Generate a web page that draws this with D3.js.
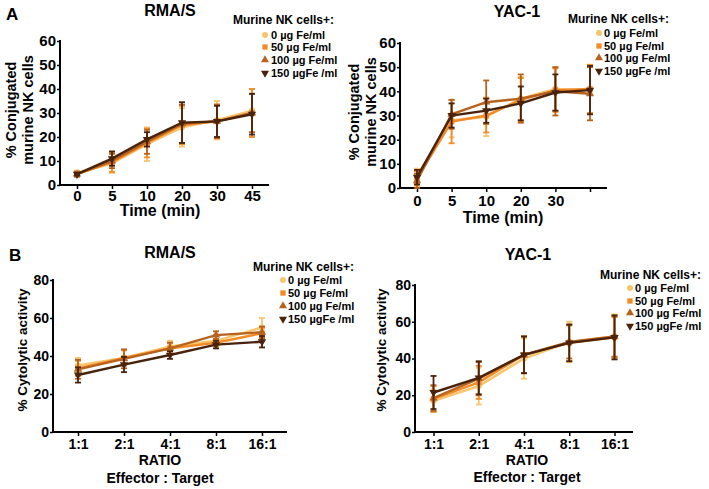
<!DOCTYPE html>
<html><head><meta charset="utf-8">
<script src="https://cdn.jsdelivr.net/npm/d3@7"></script>
<style>
body{margin:0;background:#fff;}
text{font-family:"Liberation Sans",Arial,sans-serif;font-weight:bold;fill:#000;}
</style></head>
<body><svg id="c" width="709" height="489"></svg>
<script>
// ---- data ----
const seriesNames = ["0 \u00b5g Fe/ml","50 \u00b5g Fe/ml","100 \u00b5g Fe/ml","150 \u00b5gFe /ml"];
const timeCats = ["0","5","10","20","30","45"];
const timeCatsYac = ["0","5","10","20","30",""];
const ratioCats = ["1:1","2:1","4:1","8:1","16:1"];
const conjTicks = [0,10,20,30,40,50,60];
const cytoTicks = [0,20,40,60,80];

// A: RMA/S conjugation (%)
const rmasConjMean = [
  [5, 9, 17, 24, 27, 31],
  [4.5, 9.5, 17.5, 25, 26.5, 30],
  [4.5, 10, 18, 25.5, 26.5, 30],
  [4.5, 11, 19, 26, 26.5, 29.5]
];
const rmasConjErr = [
  [1, 4, 7, 8, 8, 9],
  [1, 4, 6, 8, 7, 10],
  [1, 3, 5, 8, 7, 8],
  [0.5, 3, 3, 8.5, 6.5, 8.5]
];
// A: YAC-1 conjugation (%)
const yacConjMean = [
  [5, 28, 29.5, 37, 41, 40.5],
  [4, 27.5, 30, 36.5, 40.5, 41],
  [3, 30.5, 35.5, 37, 40, 39],
  [4.5, 30, 32, 35, 39.5, 40.5]
];
const yacConjErr = [
  [3, 7, 8, 9, 9, 9.5],
  [3, 9, 7, 9, 9, 10],
  [3, 6, 9, 10, 10, 11],
  [3, 5, 5, 7, 7.5, 10]
];
// B: RMA/S cytolytic activity (%)
const rmasCytoMean = [
  [35, 39, 45, 48, 55],
  [33.5, 39, 44, 47, 52],
  [33, 38.5, 44, 51, 52.5],
  [30, 35.5, 40.5, 46, 47.5]
];
const rmasCytoErr = [
  [4, 4, 3, 3, 5],
  [4, 4, 3, 2, 3],
  [5, 5, 3, 2, 3],
  [4, 4, 2, 2, 3]
];
// B: YAC-1 cytolytic activity (%)
const yacCytoMean = [
  [17, 25, 40, 49, 52],
  [18, 27, 42, 48.5, 51.5],
  [18.5, 29, 42, 49, 52],
  [21.5, 29.5, 42, 48.5, 51.5]
];
const yacCytoErr = [
  [6, 10, 11, 11, 12],
  [7, 9, 10, 10, 11],
  [7, 9, 10, 9, 11],
  [9, 9, 10, 10, 12]
];

// ---- styles ----
const colors = ["#F8C46E","#F28A25","#B8621E","#4A230C"];
const symbols = [d3.symbolCircle, d3.symbolSquare, d3.symbolTriangle, d3.symbolTriangle];
const symRot = [0,0,0,180];

const svg = d3.select("#c");

const panels = [
  {cats:timeCats, mean:rmasConjMean, err:rmasConjErr, yMax:60, yTicks:conjTicks,
   ax0:60, ax1:269, p0:78, p1:253, y0:185, y1:41, xpad:1,
   title:"RMA/S", tx:170, ty:16, ylab:["% Conjugated","murine NK cells"], ylx:[11,28], yly:110, ylfs:14.5,
   xlab:["Time (min)"], xlx:160, xly:[216], xlfs:16, tickfs:15,
   leg:{x:233, y:24, mx:265, tx:271, rows:[39,51,64,77]}},
  {cats:timeCatsYac, mean:yacConjMean, err:yacConjErr, yMax:60, yTicks:conjTicks,
   ax0:400, ax1:607, p0:420, p1:593, y0:188, y1:43, xpad:3,
   title:"YAC-1", tx:517, ty:17, ylab:["% Conjugated","murine NK cells"], ylx:[354,371], yly:112, ylfs:14.5,
   xlab:["Time (min)"], xlx:503, xly:[223], xlfs:16, tickfs:15,
   leg:{x:568, y:23, mx:599, tx:604, rows:[37,50,62,75]}},
  {cats:ratioCats, mean:rmasCytoMean, err:rmasCytoErr, yMax:80, yTicks:cytoTicks,
   ax0:53, ax1:287, p0:78, p1:262, y0:432, y1:280, xpad:3,
   title:"RMA/S", tx:170, ty:258, ylab:["% Cytolytic activity"], ylx:[22], yly:350, ylfs:13.5,
   xlab:["RATIO","Effector : Target"], xlx:160, xly:[465,483], xlfs:14, tickfs:14,
   leg:{x:253, y:271, mx:283, tx:288, rows:[284,297,310,323]}},
  {cats:ratioCats, mean:yacCytoMean, err:yacCytoErr, yMax:80, yTicks:cytoTicks,
   ax0:415, ax1:633, p0:432, p1:613, y0:432, y1:285, xpad:3,
   title:"YAC-1", tx:528, ty:260, ylab:["% Cytolytic activity"], ylx:[381], yly:350, ylfs:13.5,
   xlab:["RATIO","Effector : Target"], xlx:527, xly:[465,482], xlfs:14, tickfs:14,
   leg:{x:600, y:279, mx:630, tx:635, rows:[292,305,317,330]}}
];

panels.forEach(P => {
  const n = P.cats.length;
  const idx = d3.range(n);
  const step = (P.p1 - P.p0)/(n-1);
  const pad = ((P.ax1 - P.ax0)/step - (n-1))/2;
  const x = d3.scalePoint().domain(idx).range([P.ax0, P.ax1]).padding(pad);
  const y = d3.scaleLinear().domain([0, P.yMax]).range([P.y0, P.y1]);
  const g = svg.append("g");

  // axes
  const xa = g.append("g").attr("transform",`translate(0,${P.y0})`)
    .call(d3.axisBottom(x).tickSize(4).tickSizeOuter(0).tickPadding(P.xpad).tickFormat(i => P.cats[i]));
  const ya = g.append("g").attr("transform",`translate(${P.ax0},0)`)
    .call(d3.axisLeft(y).tickValues(P.yTicks).tickSize(3).tickSizeOuter(0).tickPadding(1));
  [xa, ya].forEach(a => {
    a.select(".domain").attr("stroke","#000").attr("stroke-width",2);
    a.selectAll(".tick line").attr("stroke","#000").attr("stroke-width",1.5);
    a.selectAll("text").style("font-size",P.tickfs+"px").style("font-family","'Liberation Sans',Arial,sans-serif").style("font-weight","bold").attr("fill","#000");
  });
  ya.select(".domain").attr("d",`M0,${P.y1-1}V${P.y0+1}`);
  xa.select(".domain").attr("d",`M${P.ax0-1},0H${P.ax1}`);

  // series
  P.mean.forEach((vals, s) => {
    const sg = g.append("g");
    const line = d3.line().x((d,i)=>x(i)).y(d=>y(d));
    sg.append("path").datum(vals).attr("d", line)
      .attr("fill","none").attr("stroke",colors[s]).attr("stroke-width",2.4);
    vals.forEach((v,i) => {
      const e = P.err[s][i], cx = x(i);
      sg.append("line").attr("x1",cx).attr("x2",cx).attr("y1",y(v-e)).attr("y2",y(v+e))
        .attr("stroke",colors[s]).attr("stroke-width",1.8);
      [v-e, v+e].forEach(w => sg.append("line").attr("x1",cx-3).attr("x2",cx+3).attr("y1",y(w)).attr("y2",y(w))
        .attr("stroke",colors[s]).attr("stroke-width",1.8));
      sg.append("path").attr("d", d3.symbol().type(symbols[s]).size(30)())
        .attr("transform",`translate(${cx},${y(v)}) rotate(${symRot[s]})`).attr("fill",colors[s]);
    });
  });

  // title
  g.append("text").attr("x",P.tx).attr("y",P.ty).attr("text-anchor","middle").style("font-size","16px").text(P.title);
  // y label
  P.ylab.forEach((t,k) => g.append("text")
    .attr("transform",`translate(${P.ylx[k]},${P.yly}) rotate(-90)`)
    .attr("text-anchor","middle").attr("dy","0.35em").style("font-size",P.ylfs+"px").text(t));
  // x label
  P.xlab.forEach((t,k) => g.append("text").attr("x",P.xlx).attr("y",P.xly[k])
    .attr("text-anchor","middle").style("font-size",P.xlfs+"px").text(t));
  // legend
  const L = P.leg;
  g.append("text").attr("x",L.x).attr("y",L.y).style("font-size","12px").text("Murine NK cells+:");
  seriesNames.forEach((nm,s) => {
    g.append("path").attr("d", d3.symbol().type(symbols[s]).size(28)())
      .attr("transform",`translate(${L.mx},${L.rows[s]-4}) rotate(${symRot[s]})`).attr("fill",colors[s]);
    g.append("text").attr("x",L.tx).attr("y",L.rows[s]).style("font-size","11px").text(nm);
  });
});

// panel letters
svg.append("text").attr("x",6).attr("y",20).style("font-size","17px").text("A");
svg.append("text").attr("x",9).attr("y",261).style("font-size","17px").text("B");
</script></body></html>
